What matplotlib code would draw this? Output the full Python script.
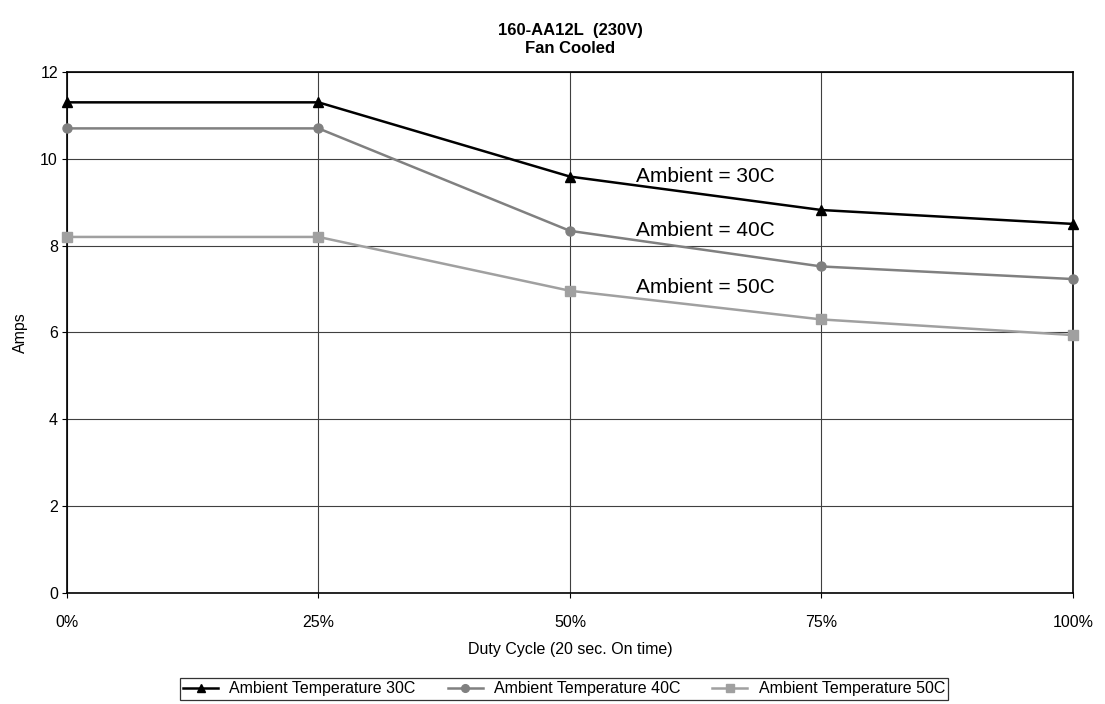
import numpy as np
import matplotlib
matplotlib.use("Agg")
import matplotlib.pyplot as plt

plt.rcParams['font.family'] = ['Liberation Sans', 'DejaVu Sans']

duty = [0, 25, 50, 75, 100]
duty_labels = ['0%', '25%', '50%', '75%', '100%']
amps_30 = [11.3, 11.3, 9.59, 8.82, 8.5]
amps_40 = [10.7, 10.7, 8.34, 7.52, 7.23]
amps_50 = [8.2, 8.2, 6.96, 6.3, 5.94]
y_ticks = [0, 2, 4, 6, 8, 10, 12]
notes = ['Ambient = 30C', 'Ambient = 40C', 'Ambient = 50C']
note_y = [9.47, 8.23, 6.90]

fig = plt.figure(figsize=(11.05, 7.04), dpi=100)
ax = fig.add_axes([0.0606, 0.1577, 0.9104, 0.7401])

ax.plot(duty, amps_30, color='black', lw=1.8, marker='^', ms=7.5,
        label='Ambient Temperature 30C', zorder=5, clip_on=False)
ax.plot(duty, amps_40, color='#808080', lw=1.8, marker='o', ms=6.5,
        label='Ambient Temperature 40C', zorder=4, clip_on=False)
ax.plot(duty, amps_50, color='#a0a0a0', lw=1.8, marker='s', ms=6.5,
        label='Ambient Temperature 50C', zorder=3, clip_on=False)

for txt, yy in zip(notes, note_y):
    ax.text(56.6, yy, txt, fontsize=15, va='baseline', ha='left')

ax.set_xlim(0, 100)
ax.set_ylim(0, 12)
ax.set_xticks(duty)
ax.set_xticklabels(duty_labels)
ax.set_yticks(y_ticks)
ax.tick_params(labelsize=11.5, length=3.5, width=0.8)
ax.tick_params(axis='x', pad=12)
ax.tick_params(axis='y', pad=3)
ax.grid(True, color='#404040', lw=0.8)
ax.set_axisbelow(True)
for s in ax.spines.values():
    s.set_color('black')
    s.set_linewidth(1.2)

ax.set_xlabel('Duty Cycle (20 sec. On time)', fontsize=11.5, labelpad=9)
ax.set_ylabel('Amps', fontsize=11.5, labelpad=9)
ax.set_title('160-AA12L  (230V)\nFan Cooled', fontsize=12, fontweight='bold',
             pad=14, linespacing=1.25)

leg = fig.legend(loc='center', bbox_to_anchor=(0.5104, 0.0215), ncol=3,
                 fontsize=11.5, frameon=True, fancybox=False, edgecolor='black',
                 handlelength=2.2, borderpad=0.2, columnspacing=2.0,
                 handletextpad=0.7, markerscale=0.85, borderaxespad=0)
leg.get_frame().set_linewidth(0.9)

fig.savefig('out.png', dpi=100)
